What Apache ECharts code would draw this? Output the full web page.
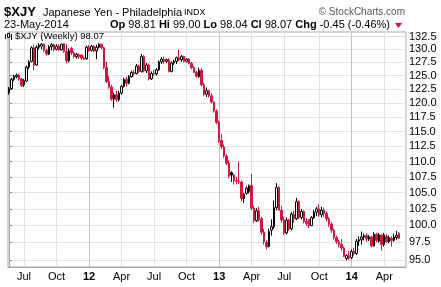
<!DOCTYPE html>
<html><head><meta charset="utf-8">
<script src="https://cdn.jsdelivr.net/npm/echarts@6/dist/echarts.min.js"></script>
<style>html,body{margin:0;padding:0;background:#fff}#c{width:441px;height:287px}</style>
</head><body><div id="c"></div>
<script>
// Weekly bars, first week ending 2011-05-27, last week ending 2014-05-23
const open = [121.9,122.6,124.3,124.8,125.1,124.4,123.3,124.0,126.6,127.7,130.3,127.0,130.4,130.6,131.0,129.8,129.1,130.5,130.9,130.0,
130.6,129.9,131.1,129.6,127.8,130.2,129.3,128.6,128.6,128.9,128.3,128.2,130.4,129.8,130.6,129.7,130.4,131.0,130.3,126.5,
123.9,122.9,120.7,121.5,120.6,121.8,123.0,124.3,123.6,124.8,125.6,125.4,126.8,125.8,128.6,125.9,127.0,124.4,125.4,125.3,
126.1,127.6,128.1,127.7,128.0,125.8,127.4,127.7,128.4,128.0,128.6,127.7,128.1,127.3,126.5,125.6,124.8,126.0,123.3,121.6,
122.2,121.3,120.2,118.6,116.6,113.5,112.4,110.9,109.7,108.2,107.8,106.9,106.8,106.7,104.1,104.9,105.2,106.1,102.6,100.7,
102.2,101.0,99.0,97.5,96.9,99.3,99.8,102.7,105.8,102.3,100.8,98.9,100.8,99.5,101.7,101.0,103.6,101.2,102.1,100.6,
100.9,100.0,101.2,102.0,102.5,101.6,102.3,101.8,101.0,100.2,99.3,98.2,97.6,97.2,96.7,95.2,95.6,95.3,96.2,95.9,
97.7,97.9,98.3,98.5,98.0,98.3,97.0,98.7,97.7,98.6,97.2,98.4,97.6,98.1,97.8,98.2,98.81];
const high = [122.9,124.6,125.2,125.4,125.3,124.6,124.4,126.9,127.9,130.6,130.9,130.8,131.2,131.2,131.1,130.1,130.8,131.2,131.1,131.0,
131.0,131.1,131.2,131.0,130.2,130.5,129.6,129.3,129.2,129.0,128.6,130.7,130.8,130.9,130.8,130.9,131.2,131.1,130.5,127.6,
125.0,123.3,121.9,122.2,122.2,123.3,124.6,124.8,125.1,125.9,126.1,127.2,127.1,129.1,128.9,127.4,127.3,125.8,126.1,126.4,
127.9,128.5,128.6,128.2,128.3,127.7,128.0,128.6,129.9,128.9,128.8,128.3,128.3,127.6,126.8,125.9,126.5,126.5,123.7,122.8,
122.4,121.8,120.3,118.9,116.9,114.6,112.8,111.2,110.2,108.4,108.0,107.5,110.0,106.9,105.0,106.0,106.3,108.0,103.0,102.6,
102.8,101.3,99.5,97.8,99.5,100.9,103.8,106.5,106.0,103.0,101.3,101.2,101.0,102.0,102.2,104.2,103.8,102.5,102.3,101.1,
101.0,101.4,102.3,102.8,103.2,102.8,102.7,102.1,101.3,100.5,99.5,98.5,97.9,98.0,96.9,95.8,96.3,96.5,96.7,98.0,
98.4,99.1,98.8,98.8,98.6,98.5,99.0,98.9,98.9,98.3,98.9,98.7,98.5,98.4,98.8,99.2,99.00];
const low = [121.5,122.4,124.0,124.5,124.1,122.9,122.9,123.8,126.2,127.5,126.0,126.8,130.0,130.0,129.5,128.8,128.9,129.8,129.6,129.8,
129.7,129.8,129.3,127.3,127.5,128.9,128.3,128.2,128.2,128.0,127.9,128.0,129.5,129.6,129.4,128.1,130.2,130.0,126.2,123.6,
122.6,120.4,119.2,120.2,120.3,121.5,122.8,123.0,123.4,124.6,124.9,125.2,125.5,125.6,125.6,125.5,124.1,124.2,124.9,125.0,
125.9,127.2,127.2,127.3,125.6,125.6,127.0,127.2,127.8,127.6,127.5,127.5,127.1,126.2,125.5,124.6,124.6,123.0,121.3,121.1,
121.0,119.9,118.3,116.3,113.1,112.0,110.6,109.4,107.3,106.7,106.3,106.3,106.4,103.7,103.4,104.7,104.9,102.3,100.4,100.5,
100.6,98.6,97.2,96.5,96.8,98.5,99.5,102.3,102.2,100.4,98.6,98.7,99.2,99.3,100.4,100.8,101.0,100.9,100.3,99.9,
99.6,99.9,101.0,101.4,101.3,101.2,101.3,100.6,99.8,98.9,97.9,97.3,96.8,96.3,95.4,94.9,95.0,95.1,95.6,95.7,
97.0,97.2,97.8,97.6,97.7,96.8,96.9,97.5,97.5,96.3,96.9,97.4,97.4,96.9,97.6,97.9,98.04];
const close = [122.6,124.3,124.9,125.1,124.4,123.2,124.1,126.6,127.6,130.3,127.0,130.4,130.8,131.0,129.8,129.1,130.5,130.9,130.0,130.6,
129.9,131.0,129.6,127.8,129.7,129.3,128.6,129.0,128.9,128.3,128.1,130.4,129.8,130.6,129.7,130.4,131.0,130.3,126.5,123.9,
122.9,120.7,121.5,120.6,121.8,123.0,124.3,123.6,124.8,125.6,125.4,126.8,125.8,128.6,125.9,127.0,124.4,125.4,125.3,126.1,
127.6,128.1,127.7,128.0,125.8,127.4,127.7,128.4,128.0,128.6,127.7,128.1,127.3,126.5,125.6,124.9,126.0,123.3,121.6,122.2,
121.3,120.2,118.6,116.6,113.5,112.4,110.9,109.7,107.6,107.8,106.9,106.8,106.7,104.1,104.8,105.7,106.1,102.6,100.7,102.2,
100.9,99.0,97.6,96.9,99.1,99.8,102.7,105.8,102.3,100.8,98.9,100.8,99.5,101.7,101.0,103.6,101.2,102.1,100.6,100.3,
100.0,101.2,102.0,102.5,101.6,102.3,101.8,101.0,100.2,99.3,98.2,97.6,97.2,96.7,95.5,95.6,95.3,96.2,95.9,97.7,
97.9,98.3,98.5,98.0,98.3,97.0,98.7,97.8,98.6,97.2,98.6,97.6,98.2,97.8,98.3,98.52,98.07];

const xTickWeeks  = [6,19,32,45,58,71,84,97,110,124,137,150];
const xTickLabels = ['Jul','Oct','12','Apr','Jul','Oct','13','Apr','Jul','Oct','14','Apr'];
const yearWeeks   = [32,84,137];
const yTicks = [95,97.5,100,102.5,105,107.5,110,112.5,115,117.5,120,122.5,125,127.5,130,132.5];
const yRange = [94.0,133.4];
const xRange = [-0.4,158.7];

const RED = '#d3173f', BLACK = '#000';
const FONT = '"Liberation Sans", Arial, sans-serif';

const data = close.map((c,i)=>{
  const prev = i>0 ? close[i-1] : open[i];
  const col = c >= prev ? BLACK : RED;
  const fill = c >= open[i] ? '#fff' : col;
  return {value:[i, Math.log(open[i]), Math.log(c), Math.log(low[i]), Math.log(high[i])],
          itemStyle:{color:fill,color0:fill,borderColor:col,borderColor0:col,borderWidth:1}};
});

const chart = echarts.init(document.getElementById('c'), null, {renderer:'canvas'});
chart.setOption({
  animation:false,
  backgroundColor:'#fff',
  grid:{left:8,right:35,top:32,bottom:20,show:true,borderColor:'#a8a8a8',borderWidth:1},
  xAxis:[{
    type:'value', min:xRange[0], max:xRange[1], position:'bottom',
    axisLine:{show:true,lineStyle:{color:'#a8a8a8'}},
    axisTick:{show:false,customValues:xTickWeeks},
    axisLabel:{customValues:xTickWeeks, margin:4, color:'#000', fontSize:11, fontFamily:FONT,
      formatter:v=>{const t=xTickLabels[xTickWeeks.indexOf(v)]||''; return /^\d+$/.test(t)?'{b|'+t+'}':t;},
      rich:{b:{fontWeight:'bold',fontSize:11,fontFamily:FONT,color:'#000'}}},
    splitLine:{show:true,lineStyle:{color:'#e2e2e2',width:1}}
  },{
    type:'value', min:xRange[0], max:xRange[1], position:'bottom',
    axisLine:{show:false}, axisTick:{show:false,customValues:yearWeeks},
    axisLabel:{show:false,customValues:yearWeeks},
    splitLine:{show:true,lineStyle:{color:'#c2c2c2',width:1}}
  }],
  yAxis:{
    type:'value', position:'right', min:Math.log(yRange[0]), max:Math.log(yRange[1]),
    axisLine:{show:true,lineStyle:{color:'#a8a8a8'}},
    axisTick:{show:true,length:3,lineStyle:{color:'#888'},customValues:yTicks.map(Math.log)},
    axisLabel:{customValues:yTicks.map(Math.log), margin:3, color:'#000', fontSize:11, fontFamily:FONT,
      formatter:v=>Math.exp(v).toFixed(1)},
    splitLine:{show:true,lineStyle:{color:'#e2e2e2',width:1}}
  },
  series:[{
    type:'candlestick', xAxisIndex:0, yAxisIndex:0,
    dimensions:['week','open','close','low','high'],
    encode:{x:0,y:[1,2,3,4]},
    barWidth:2, data:data
  }],
  graphic:[
    {type:'text', z:100, x:4, y:12.5, style:{text:'$XJY', fontSize:13, fontWeight:'bold', fontFamily:FONT, fill:'#000', verticalAlign:'middle'}},
    {type:'text', z:100, x:43, y:12.5, style:{text:'Japanese Yen - Philadelphia', fontSize:11, fontFamily:FONT, fill:'#000', verticalAlign:'middle'}},
    {type:'text', z:100, x:184, y:13, style:{text:'INDX', fontSize:9, fontFamily:FONT, fill:'#000', verticalAlign:'middle'}},
    {type:'text', z:100, x:405, y:12.5, style:{text:'\u00a9 StockCharts.com', fontSize:10, fontFamily:FONT, fill:'#555', align:'right', verticalAlign:'middle'}},
    {type:'text', z:100, x:4, y:25, style:{text:'23-May-2014', fontSize:11, fontFamily:FONT, fill:'#000', verticalAlign:'middle'}},
    {type:'text', z:100, x:110, y:25, style:{
      text:'{b|Op} 98.81 {b|Hi} 99.00 {b|Lo} 98.04 {b|Cl} 98.07 {b|Chg} -0.45 (-0.46%)',
      fontSize:11, fontFamily:FONT, fill:'#000', verticalAlign:'middle',
      rich:{b:{fontWeight:'bold',fontSize:11,fontFamily:FONT,fill:'#000'}}}},
    {type:'polygon', z:100, shape:{points:[[395,23],[402,23],[398.5,28]]}, style:{fill:RED}},
    {type:'rect', z:100, shape:{x:5,y:34,width:1,height:5}, style:{fill:'#000'}},
    {type:'rect', z:100, shape:{x:7.5,y:33.5,width:2,height:4}, style:{fill:'#fff',stroke:'#000',lineWidth:1}},
    {type:'rect', z:100, shape:{x:11,y:34,width:1,height:6}, style:{fill:'#000'}},
    {type:'text', z:100, x:15, y:36.5, style:{text:'$XJY (Weekly) 98.07', fontSize:9.5, fontFamily:FONT, fill:'#000', verticalAlign:'middle'}}
  ]
});
</script></body></html>
